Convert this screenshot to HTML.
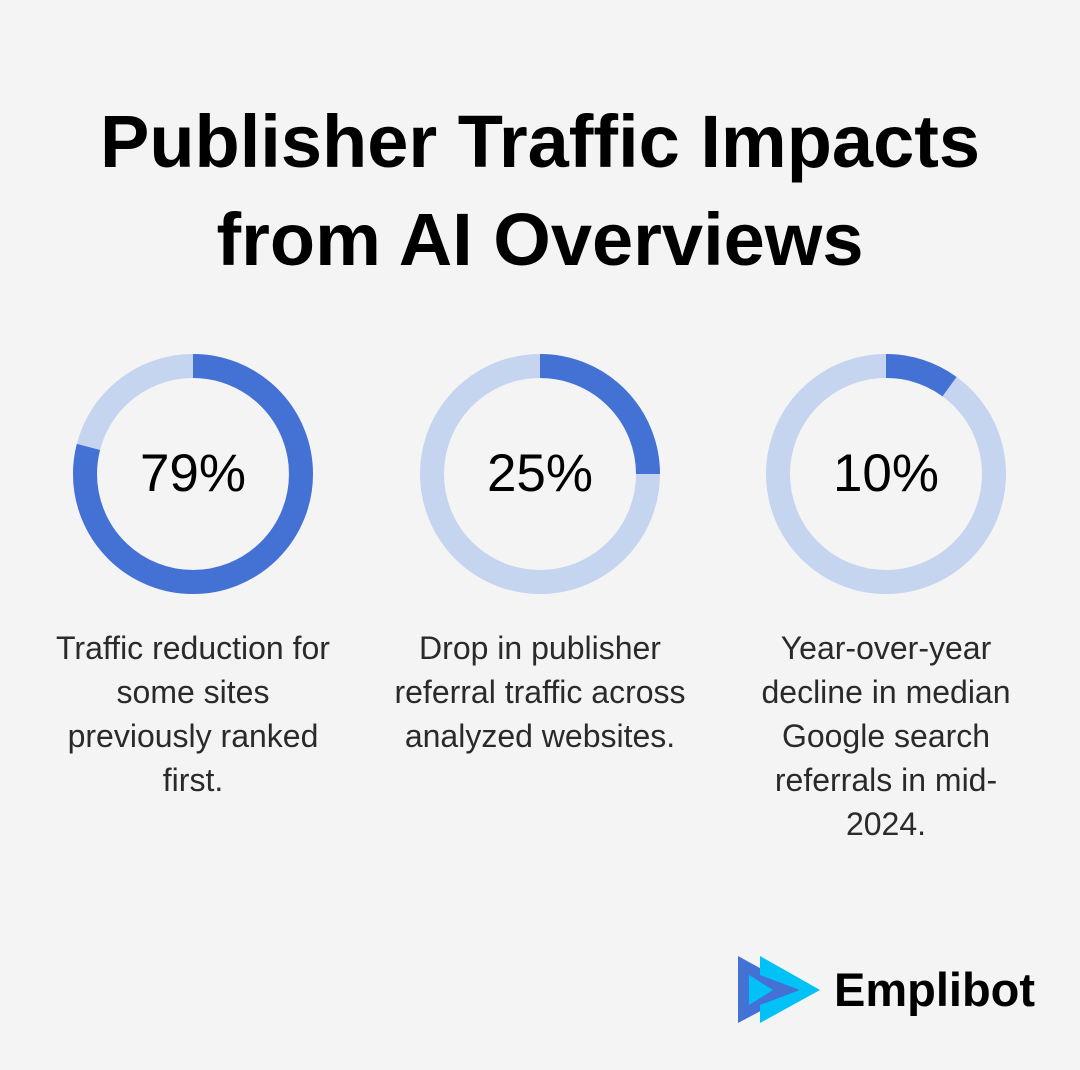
<!DOCTYPE html>
<html><head><meta charset="utf-8"><style>
body{margin:0;width:1080px;height:1070px;background:#f4f4f4;font-family:"Liberation Sans",sans-serif;position:relative;overflow:hidden}
.t{position:absolute;left:0;width:1080px;text-align:center;font-weight:bold;font-size:74px;color:#000;line-height:98px;top:93px}
.p{position:absolute;top:443px;width:240px;text-align:center;font-size:53px;color:#000}
.d{position:absolute;top:626px;width:360px;text-align:center;font-size:32px;line-height:44px;color:#2a2a2a;white-space:nowrap}
</style></head><body>
<div class="t">Publisher Traffic Impacts<br>from AI Overviews</div>
<svg width="1080" height="1070" style="position:absolute;left:0;top:0">
<g fill="none" stroke-width="24">
<circle cx="193" cy="474" r="108" stroke="#c5d5f0"/>
<circle cx="193" cy="474" r="108" stroke="#4472d4" stroke-dasharray="536.1 1000" transform="rotate(-90 193 474)"/>
<circle cx="540" cy="474" r="108" stroke="#c5d5f0"/>
<circle cx="540" cy="474" r="108" stroke="#4472d4" stroke-dasharray="169.6 1000" transform="rotate(-90 540 474)"/>
<circle cx="886" cy="474" r="108" stroke="#c5d5f0"/>
<circle cx="886" cy="474" r="108" stroke="#4472d4" stroke-dasharray="67.9 1000" transform="rotate(-90 886 474)"/>
</g>
<polygon points="738,956 738,1023 800,990" fill="#4472d4"/>
<polygon points="760,956 820,990 760,1023 760,1005 800,990 760,975" fill="#00c2f7"/>
<polygon points="749,975 773,990 749,1005" fill="#00c2f7"/>
<text x="834" y="1006" font-family="Liberation Sans" font-weight="bold" font-size="47" fill="#000">Emplibot</text>
</svg>
<div class="p" style="left:73px">79%</div>
<div class="p" style="left:420px">25%</div>
<div class="p" style="left:766px">10%</div>
<div class="d" style="left:13px">Traffic reduction for<br>some sites<br>previously ranked<br>first.</div>
<div class="d" style="left:360px">Drop in publisher<br>referral traffic across<br>analyzed websites.</div>
<div class="d" style="left:706px">Year-over-year<br>decline in median<br>Google search<br>referrals in mid-<br>2024.</div>
</body></html>
